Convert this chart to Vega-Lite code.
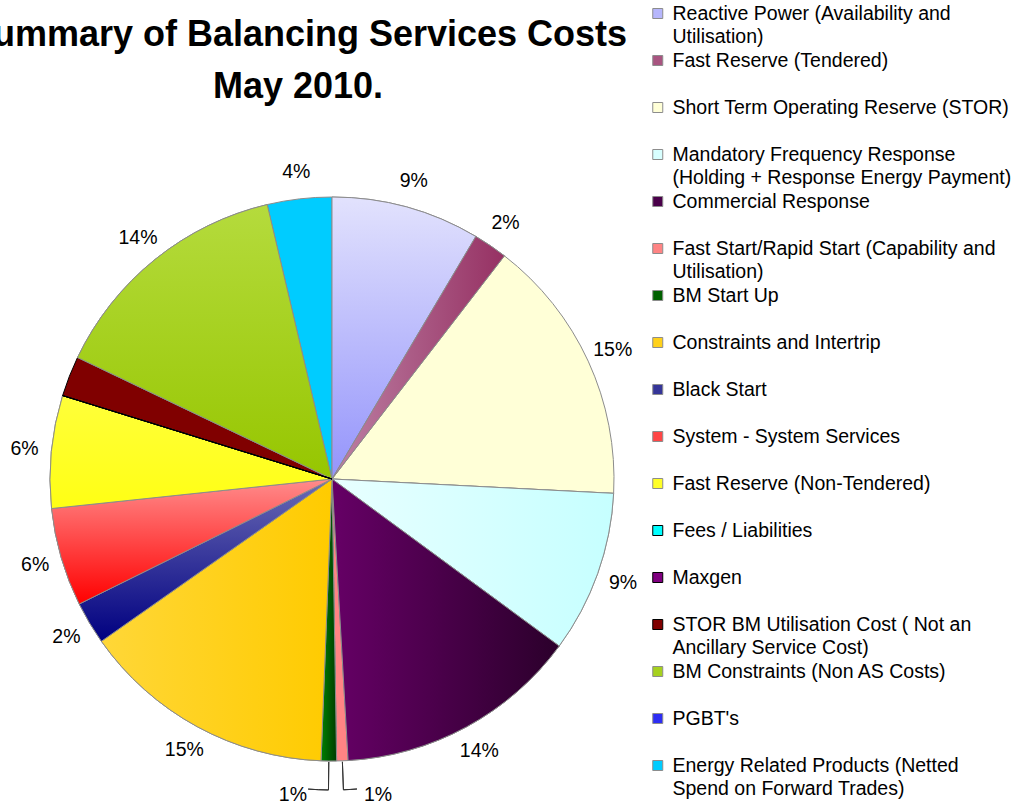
{
  "$schema": "https://vega.github.io/schema/vega-lite/v6.json",
  "width": 664,
  "height": 638,
  "autosize": {"type": "none"},
  "padding": {"left": 0, "top": 160, "right": 360, "bottom": 6},
  "background": "white",
  "title": {
    "text": ["Summary of Balancing Services Costs", "May 2010."],
    "font": "Liberation Sans",
    "fontSize": 36,
    "fontWeight": "bold",
    "lineHeight": 52,
    "color": "black",
    "anchor": "middle",
    "frame": "group",
    "dx": -34,
    "offset": -106.5
  },
  "data": {
    "values": [
      {"n": 1, "category": "Reactive Power (Availability and\nUtilisation)", "share": 0.0852},
      {"n": 2, "category": "Fast Reserve (Tendered)", "share": 0.0195},
      {"n": 3, "category": "Short Term Operating Reserve (STOR)", "share": 0.1534},
      {"n": 4, "category": "Mandatory Frequency Response\n(Holding + Response Energy Payment)", "share": 0.0928},
      {"n": 5, "category": "Commercial Response", "share": 0.1400},
      {"n": 6, "category": "Fast Start/Rapid Start (Capability and\nUtilisation)", "share": 0.0065},
      {"n": 7, "category": "BM Start Up", "share": 0.0088},
      {"n": 8, "category": "Constraints and Intertrip", "share": 0.1462},
      {"n": 9, "category": "Black Start", "share": 0.0245},
      {"n": 10, "category": "System - System Services", "share": 0.0564},
      {"n": 11, "category": "Fast Reserve (Non-Tendered)", "share": 0.0645},
      {"n": 12, "category": "Fees / Liabilities", "share": 0},
      {"n": 13, "category": "Maxgen", "share": 0},
      {"n": 14, "category": "STOR BM Utilisation Cost ( Not an\nAncillary Service Cost)", "share": 0.0231},
      {"n": 15, "category": "BM Constraints (Non AS Costs)", "share": 0.1422},
      {"n": 16, "category": "PGBT's", "share": 0},
      {"n": 17, "category": "Energy Related Products (Netted\nSpend on Forward Trades)", "share": 0.0369}
    ]
  },
  "transform": [
    {"stack": "share", "groupby": [], "sort": [{"field": "n", "order": "ascending"}], "as": ["v0", "v1"]}
  ],
  "layer": [
    {
      "mark": {"type": "arc", "radius": 282, "strokeWidth": 1},
      "encoding": {
        "theta": {"field": "v0", "type": "quantitative"},
        "theta2": {"field": "v1"},
        "color": {
          "field": "category",
          "type": "nominal",
          "sort": null,
          "scale": {
            "range": ["#b6b6fc", "#a85480", "#ffffd7", "#d8ffff", "#4a004a", "#ff8484", "#006000", "#ffd11a", "#353598", "#ff4646", "#ffff27", "#00ffff", "#800080", "#800000", "#a6d11e", "#2d2df3", "#00ccff"]
          },
          "legend": {
            "orient": "none",
            "legendX": 648,
            "legendY": -160.56,
            "title": null,
            "padding": 0,
            "symbolType": "square",
            "symbolSize": 100,
            "symbolStrokeWidth": 1,
            "labelFont": "Liberation Sans",
            "labelFontSize": 19.5,
            "labelColor": "black",
            "labelLimit": 400,
            "labelOffset": 5,
            "labelExpr": "split(datum.label, '\\n')",
            "clipHeight": 28.12,
            "gridAlign": "all",
            "rowPadding": 0
          }
        },
        "stroke": {
          "field": "category",
          "type": "nominal",
          "sort": null,
          "scale": {
            "range": ["#8c8c8c", "#8c8c8c", "#8c8c8c", "#8c8c8c", "#8c8c8c", "#8c8c8c", "#8c8c8c", "#8c8c8c", "#8c8c8c", "#8c8c8c", "#8c8c8c", "#000000", "#000000", "#000000", "#8c8c8c", "#8c8c8c", "#8c8c8c"]
          }
        }
      }
    },
    {
      "transform": [{"filter": "datum.n == 1"}],
      "mark": {"type": "arc", "radius": 282, "stroke": "#8c8c8c", "strokeWidth": 1, "color": {"gradient": "linear", "x1": 0, "y1": 0, "x2": 0, "y2": 1, "stops": [{"offset": 0, "color": "#e2e2fd"}, {"offset": 1, "color": "#9494fb"}]}},
      "encoding": {"theta": {"field": "v0", "type": "quantitative"}, "theta2": {"field": "v1"}}
    },
    {
      "transform": [{"filter": "datum.n == 2"}],
      "mark": {"type": "arc", "radius": 282, "stroke": "#8c8c8c", "strokeWidth": 1, "color": {"gradient": "linear", "x1": 0, "y1": 0, "x2": 1, "y2": 0, "stops": [{"offset": 0, "color": "#bd80a4"}, {"offset": 1, "color": "#963163"}]}},
      "encoding": {"theta": {"field": "v0", "type": "quantitative"}, "theta2": {"field": "v1"}}
    },
    {
      "transform": [{"filter": "datum.n == 4"}],
      "mark": {"type": "arc", "radius": 282, "stroke": "#8c8c8c", "strokeWidth": 1, "color": {"gradient": "linear", "x1": 0, "y1": 0, "x2": 1, "y2": 0, "stops": [{"offset": 0, "color": "#e8ffff"}, {"offset": 1, "color": "#c6ffff"}]}},
      "encoding": {"theta": {"field": "v0", "type": "quantitative"}, "theta2": {"field": "v1"}}
    },
    {
      "transform": [{"filter": "datum.n == 5"}],
      "mark": {"type": "arc", "radius": 282, "stroke": "#8c8c8c", "strokeWidth": 1, "color": {"gradient": "linear", "x1": 0, "y1": 0, "x2": 1, "y2": 0, "stops": [{"offset": 0, "color": "#660066"}, {"offset": 1, "color": "#2b002b"}]}},
      "encoding": {"theta": {"field": "v0", "type": "quantitative"}, "theta2": {"field": "v1"}}
    },
    {
      "transform": [{"filter": "datum.n == 7"}],
      "mark": {"type": "arc", "radius": 282, "stroke": "#8c8c8c", "strokeWidth": 1, "color": {"gradient": "linear", "x1": 0, "y1": 0, "x2": 1, "y2": 0, "stops": [{"offset": 0, "color": "#008000"}, {"offset": 1, "color": "#003c00"}]}},
      "encoding": {"theta": {"field": "v0", "type": "quantitative"}, "theta2": {"field": "v1"}}
    },
    {
      "transform": [{"filter": "datum.n == 8"}],
      "mark": {"type": "arc", "radius": 282, "stroke": "#8c8c8c", "strokeWidth": 1, "color": {"gradient": "linear", "x1": 0, "y1": 0, "x2": 1, "y2": 0, "stops": [{"offset": 0, "color": "#ffd738"}, {"offset": 1, "color": "#ffcb00"}]}},
      "encoding": {"theta": {"field": "v0", "type": "quantitative"}, "theta2": {"field": "v1"}}
    },
    {
      "transform": [{"filter": "datum.n == 9"}],
      "mark": {"type": "arc", "radius": 282, "stroke": "#8c8c8c", "strokeWidth": 1, "color": {"gradient": "linear", "x1": 0, "y1": 0, "x2": 0, "y2": 1, "stops": [{"offset": 0, "color": "#6b6bb5"}, {"offset": 1, "color": "#000080"}]}},
      "encoding": {"theta": {"field": "v0", "type": "quantitative"}, "theta2": {"field": "v1"}}
    },
    {
      "transform": [{"filter": "datum.n == 10"}],
      "mark": {"type": "arc", "radius": 282, "stroke": "#8c8c8c", "strokeWidth": 1, "color": {"gradient": "linear", "x1": 0, "y1": 0, "x2": 0, "y2": 1, "stops": [{"offset": 0, "color": "#ff8c8c"}, {"offset": 1, "color": "#ff0000"}]}},
      "encoding": {"theta": {"field": "v0", "type": "quantitative"}, "theta2": {"field": "v1"}}
    },
    {
      "transform": [{"filter": "datum.n == 11"}],
      "mark": {"type": "arc", "radius": 282, "stroke": "#8c8c8c", "strokeWidth": 1, "color": {"gradient": "linear", "x1": 0, "y1": 0, "x2": 0, "y2": 1, "stops": [{"offset": 0, "color": "#ffff3a"}, {"offset": 1, "color": "#ffff14"}]}},
      "encoding": {"theta": {"field": "v0", "type": "quantitative"}, "theta2": {"field": "v1"}}
    },
    {
      "transform": [{"filter": "datum.n == 15"}],
      "mark": {"type": "arc", "radius": 282, "stroke": "#8c8c8c", "strokeWidth": 1, "color": {"gradient": "linear", "x1": 0, "y1": 0, "x2": 0, "y2": 1, "stops": [{"offset": 0, "color": "#b5db3d"}, {"offset": 1, "color": "#96c600"}]}},
      "encoding": {"theta": {"field": "v0", "type": "quantitative"}, "theta2": {"field": "v1"}}
    },
    {
      "transform": [{"filter": "datum.n == 12 || datum.n == 13"}],
      "mark": {"type": "arc", "radius": 282, "stroke": "#000000", "strokeWidth": 1, "fillOpacity": 0},
      "encoding": {"theta": {"field": "v0", "type": "quantitative"}, "theta2": {"field": "v1"}}
    },
    {
      "transform": [{"filter": "datum.n == 6"}],
      "mark": {"type": "arc", "radius": 311, "radius2": 283, "thetaOffset": 0.0204, "theta2Offset": -0.0204, "stroke": "#333333", "strokeWidth": 1, "fillOpacity": 0},
      "encoding": {"theta": {"field": "v0", "type": "quantitative"}, "theta2": {"field": "v1"}}
    },
    {
      "transform": [{"filter": "datum.n == 6"}],
      "mark": {"type": "arc", "radius": 311, "radius2": 311, "thetaOffset": 0.0204, "theta2Offset": -0.0232, "stroke": "#333333", "strokeWidth": 1, "fillOpacity": 0},
      "encoding": {"theta": {"field": "v0", "type": "quantitative"}, "theta2": {"field": "v0"}}
    },
    {
      "transform": [{"filter": "datum.n == 7"}],
      "mark": {"type": "arc", "radius": 311, "radius2": 283, "thetaOffset": 0.0276, "theta2Offset": -0.0276, "stroke": "#333333", "strokeWidth": 1, "fillOpacity": 0},
      "encoding": {"theta": {"field": "v0", "type": "quantitative"}, "theta2": {"field": "v1"}}
    },
    {
      "transform": [{"filter": "datum.n == 7"}],
      "mark": {"type": "arc", "radius": 311, "radius2": 311, "thetaOffset": -0.0276, "theta2Offset": 0.0378, "stroke": "#333333", "strokeWidth": 1, "fillOpacity": 0},
      "encoding": {"theta": {"field": "v1", "type": "quantitative"}, "theta2": {"field": "v1"}}
    },
    {
      "mark": {"type": "text", "radius": 309, "font": "Liberation Sans", "fontSize": 19.5, "color": "black"},
      "encoding": {
        "theta": {"field": "share", "type": "quantitative", "stack": true},
        "order": {"field": "n", "type": "quantitative"},
        "detail": {"field": "category"},
        "text": {
          "condition": {"test": "datum.share > 0 && datum.n != 6 && datum.n != 7 && datum.n != 14", "field": "share", "type": "quantitative", "format": ".0%"},
          "value": ""
        }
      }
    },
    {
      "mark": {"type": "text", "radius": 315, "dx": 34.5, "dy": 1, "font": "Liberation Sans", "fontSize": 19.5, "color": "black"},
      "encoding": {
        "theta": {"field": "share", "type": "quantitative", "stack": true},
        "order": {"field": "n", "type": "quantitative"},
        "detail": {"field": "category"},
        "text": {
          "condition": {"test": "datum.n == 6", "field": "share", "type": "quantitative", "format": ".0%"},
          "value": ""
        }
      }
    },
    {
      "mark": {"type": "text", "radius": 315, "dx": -35.5, "dy": 1, "font": "Liberation Sans", "fontSize": 19.5, "color": "black"},
      "encoding": {
        "theta": {"field": "share", "type": "quantitative", "stack": true},
        "order": {"field": "n", "type": "quantitative"},
        "detail": {"field": "category"},
        "text": {
          "condition": {"test": "datum.n == 7", "field": "share", "type": "quantitative", "format": ".0%"},
          "value": ""
        }
      }
    }
  ],
  "config": {
    "view": {"stroke": null},
    "style": {"guide-label": {"lineHeight": 23}}
  }
}
